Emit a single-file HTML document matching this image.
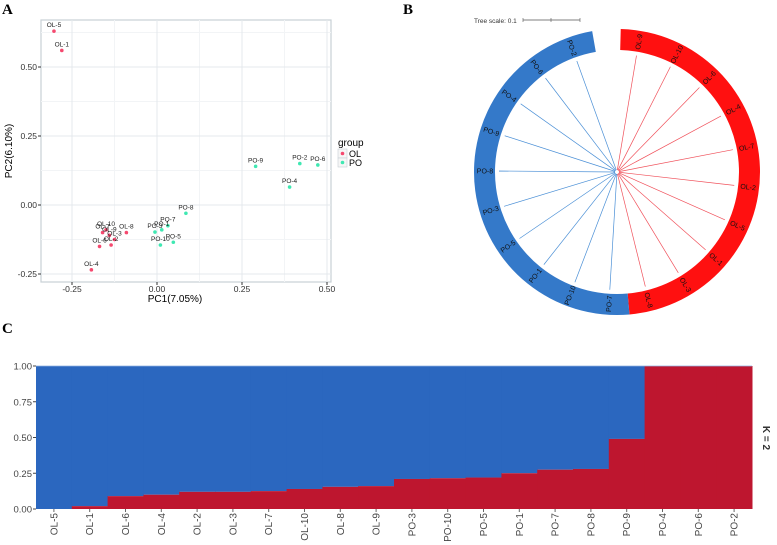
<!DOCTYPE html>
<html><head><meta charset="utf-8"><style>
body{margin:0;background:#fff;}
svg{display:block;font-family:"Liberation Sans",sans-serif;}
</style></head><body>
<svg id="fig" width="777" height="545" viewBox="0 0 777 545">
<text x="2" y="14" font-family="Liberation Serif" font-weight="bold" font-size="15">A</text>
<text x="403" y="14" font-family="Liberation Serif" font-weight="bold" font-size="15">B</text>
<text x="2" y="333" font-family="Liberation Serif" font-weight="bold" font-size="15">C</text>
<g id="pca"></g>
<g id="tree"></g>
<g id="bars"></g>
</svg>
<script>
const NS="http://www.w3.org/2000/svg";
function mk(p,t,a,txt){const e=document.createElementNS(NS,t);for(const k in a)e.setAttribute(k,a[k]);if(txt!==undefined)e.textContent=txt;p.appendChild(e);return e;}

// ---- Panel A data ----
const pcaNames=["OL-5","OL-1","OL-4","OL-7","OL-10","OL-9","OL-8","OL-3","OL-2","OL-6","PO-9","PO-2","PO-6","PO-4","PO-8","PO-7","PO-3","PO-1","PO-10","PO-5"];
const pcaX=[-0.303,-0.28,-0.193,-0.16,-0.15,-0.14,-0.09,-0.125,-0.135,-0.169,0.29,0.42,0.473,0.39,0.085,0.032,-0.006,0.014,0.01,0.048];
const pcaY=[0.63,0.56,-0.235,-0.10,-0.09,-0.11,-0.10,-0.125,-0.145,-0.15,0.14,0.15,0.145,0.065,-0.03,-0.075,-0.098,-0.09,-0.145,-0.135];
const pcaGroup=["OL","OL","OL","OL","OL","OL","OL","OL","OL","OL","PO","PO","PO","PO","PO","PO","PO","PO","PO","PO"];
const pcaXTicks=[-0.25,0,0.25,0.5];
const pcaXTickLabels=["-0.25","0.00","0.25","0.50"];
const pcaYTicks=[-0.25,0,0.25,0.5];
const pcaYTickLabels=["-0.25","0.00","0.25","0.50"];
const A=document.getElementById('pca');
const ax=v=>157+v*340, ay=v=>205-v*276;
const L=41,R=331,T=20,B=282;
let e=mk(A,'rect',{x:L,y:T,width:R-L,height:B-T,fill:'#fff',stroke:'#c8d0d6','stroke-width':1.2});

[-0.375,-0.125,0.125,0.375].forEach(v=>{if(ax(v)>L)mk(A,'line',{x1:ax(v),x2:ax(v),y1:T,y2:B,stroke:'#f2f4f6'});});
[-0.125,0.125,0.375,0.625].forEach(v=>{if(ay(v)>T)mk(A,'line',{x1:L,x2:R,y1:ay(v),y2:ay(v),stroke:'#f2f4f6'});});
pcaXTicks.forEach((v,i)=>{mk(A,'line',{x1:ax(v),x2:ax(v),y1:T,y2:B,stroke:'#e4e8ec'});mk(A,'line',{x1:ax(v),x2:ax(v),y1:B,y2:B+3,stroke:'#333'});
 const t=mk(A,'text',{x:ax(v),y:B+10,'font-size':8.5,'text-anchor':'middle',fill:'#333'},pcaXTickLabels[i]);});
pcaYTicks.forEach((v,i)=>{mk(A,'line',{x1:L,x2:R,y1:ay(v),y2:ay(v),stroke:'#e4e8ec'});mk(A,'line',{x1:L-3,x2:L,y1:ay(v),y2:ay(v),stroke:'#333'});
 const t=mk(A,'text',{x:L-4,y:ay(v)+3,'font-size':8.5,'text-anchor':'end',fill:'#333'},pcaYTickLabels[i]);});
e=mk(A,'text',{x:175,y:302,'font-size':10,'text-anchor':'middle'},'PC1(7.05%)');
e=mk(A,'text',{x:12,y:151,'font-size':10,'text-anchor':'middle',transform:'rotate(-90 12 151)'},'PC2(6.10%)');
const col={OL:'#f5496f',PO:'#3fe8b2'};
pcaNames.forEach((n,i)=>{const c=mk(A,'circle',{cx:ax(pcaX[i]),cy:ay(pcaY[i]),r:1.8,fill:col[pcaGroup[i]]});
 const t=mk(A,'text',{x:ax(pcaX[i]),y:ay(pcaY[i])-4,'font-size':6.5,'text-anchor':'middle',fill:'#222'},n);});
e=mk(A,'text',{x:338,y:146,'font-size':10},'group');
['OL','PO'].forEach((g,i)=>{mk(A,'rect',{x:338,y:149+i*9,width:9,height:9,fill:'#f6f6f6',stroke:'#c8d0d6','stroke-width':0.6});
 mk(A,'circle',{cx:342.5,cy:153.5+i*9,r:1.8,fill:col[g]});
 const t=mk(A,'text',{x:349,y:157+i*9,'font-size':9},g);});

// ---- Panel B tree ----
const leafNames=["OL-9","OL-10","OL-6","OL-4","OL-7","OL-2","OL-5","OL-1","OL-3","OL-8","PO-7","PO-10","PO-1","PO-5","PO-3","PO-8","PO-9","PO-4","PO-6","PO-2"];
const leafGroup=["OL","OL","OL","OL","OL","OL","OL","OL","OL","OL","PO","PO","PO","PO","PO","PO","PO","PO","PO","PO"];
const Tg=document.getElementById('tree');
const cx=617,cy=172,rO=143,rI=122;
const pt=(r,a)=>[cx+r*Math.sin(a*Math.PI/180),cy-r*Math.cos(a*Math.PI/180)];
function arc(a0,a1,color,name){const p0=pt(rO,a0),p1=pt(rO,a1),q1=pt(rI,a1),q0=pt(rI,a0);const lg=(a1-a0)>180?1:0;
 const p=mk(Tg,'path',{d:`M${p0}A${rO},${rO} 0 ${lg} 1 ${p1}L${q1}A${rI},${rI} 0 ${lg} 0 ${q0}Z`,fill:color});}
arc(1.5,175,'#ff1010','ol-ring');arc(175,350,'#3479c9','po-ring');
const tc={OL:'#f0505a',PO:'#4a8fd6'};
leafNames.forEach((n,i)=>{const a=9.5+17.4*i;const s=pt(2,a),t=pt(118,a);
 const l=mk(Tg,'line',{x1:s[0],y1:s[1],x2:t[0],y2:t[1],stroke:tc[leafGroup[i]],'stroke-width':0.7});
 const m=pt(132,a);let rot=a-90;if(a>180)rot=a+90;
 const tx=mk(Tg,'text',{x:m[0],y:m[1]+2.5,'font-size':7,'text-anchor':'middle',fill:'#111',transform:`rotate(${rot} ${m[0]} ${m[1]})`},n);});
e=mk(Tg,'text',{x:474,y:23,'font-size':6.5,fill:'#333'},'Tree scale: 0.1');
e=mk(Tg,'line',{x1:523,x2:580,y1:20,y2:20,stroke:'#555','stroke-width':0.8});
[523,551,580].forEach(x=>mk(Tg,'line',{x1:x,x2:x,y1:18,y2:22,stroke:'#555','stroke-width':0.6}));

// ---- Panel C ----
const barNames=["OL-5","OL-1","OL-6","OL-4","OL-2","OL-3","OL-7","OL-10","OL-8","OL-9","PO-3","PO-10","PO-5","PO-1","PO-7","PO-8","PO-9","PO-4","PO-6","PO-2"];
const redFrac=[0,0.02,0.09,0.10,0.12,0.12,0.125,0.14,0.155,0.16,0.21,0.215,0.22,0.25,0.275,0.28,0.49,1,1,1];
const cTicks=[0,0.25,0.5,0.75,1];
const cTickLabels=["0.00","0.25","0.50","0.75","1.00"];
const C=document.getElementById('bars');
const cL=36,cR=752,cT=366,cB=509,bw=(cR-cL)/barNames.length;
const cy2=v=>cB-v*(cB-cT);
barNames.forEach((n,i)=>{const x=cL+i*bw;
 let r=mk(C,'rect',{x:x,y:cT,width:bw+0.5,height:cy2(redFrac[i])-cT,fill:'#2b67bf'});
 r=mk(C,'rect',{x:x,y:cy2(redFrac[i]),width:bw+0.5,height:cB-cy2(redFrac[i]),fill:'#be162f'});
 const lx=x+bw/2+3.5;const t=mk(C,'text',{x:lx,y:513,'font-size':10,'text-anchor':'end',fill:'#444',transform:`rotate(-90 ${lx} 513)`},n);
 mk(C,'line',{x1:x+bw/2,x2:x+bw/2,y1:cB,y2:cB+3,stroke:'#666'});});
mk(C,'line',{x1:cL,x2:cR,y1:cT,y2:cT,stroke:'#8fb0e0','stroke-width':0.8});
cTicks.forEach((v,i)=>{mk(C,'line',{x1:cL-3,x2:cL,y1:cy2(v),y2:cy2(v),stroke:'#444'});
 const t=mk(C,'text',{x:cL-4,y:cy2(v)+3.5,'font-size':9.5,'text-anchor':'end',fill:'#444'},cTickLabels[i]);});
e=mk(C,'text',{x:763,y:438,'font-size':10,'font-weight':'bold','text-anchor':'middle',fill:'#333',transform:'rotate(90 763 438)'},'K = 2');
</script>
</body></html>
